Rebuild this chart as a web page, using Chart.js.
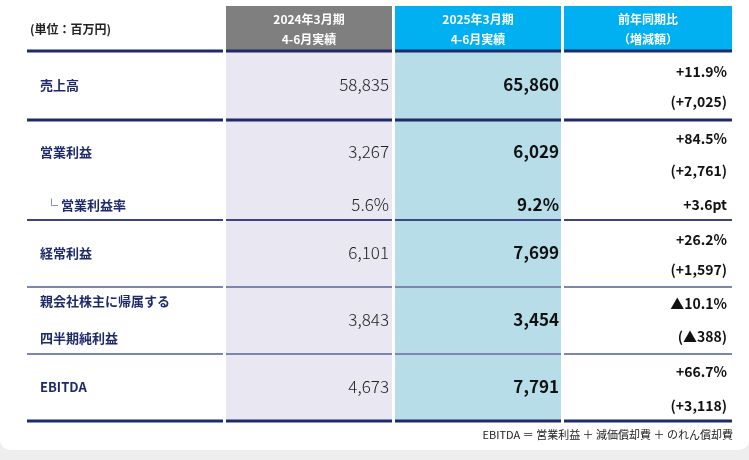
<!DOCTYPE html>
<html><head><meta charset="utf-8">
<script src="https://cdn.jsdelivr.net/npm/chart.js@4/dist/chart.umd.min.js"></script>
<style>
html,body{margin:0;padding:0;background:#eeeeee;}
#wrap{position:absolute;left:0;top:0;width:749px;height:450px;background:#fff;border-radius:0 0 10px 10px;}
</style></head>
<body>
<div id="wrap"><canvas id="myChart" width="749" height="460"></canvas></div>
<script>
const categories = [['売上高'], ['営業利益'], ['└ 営業利益率'], ['経常利益'], ['親会社株主に帰属する', '四半期純利益'], ['EBITDA']];
const prevValues = ['58,835', '3,267', '5.6%', '6,101', '3,843', '4,673'];
const currValues = ['65,860', '6,029', '9.2%', '7,699', '3,454', '7,791'];
const changePct = ['+11.9%', '+84.5%', '+3.6pt', '+26.2%', '▲10.1%', '+66.7%'];
const changeAmt = ['(+7,025)', '(+2,761)', null, '(+1,597)', '(▲388)', '(+3,118)'];
const headers = [['(単位：百万円)'], ['2024年3月期', '4-6月実績'], ['2025年3月期', '4-6月実績'], ['前年同期比', '（増減額）']];
const footnote = 'EBITDA ＝ 営業利益 ＋ 減価償却費 ＋ のれん償却費';

// layout in page units
const cols = [[27, 223], [226, 392], [395, 561], [564, 732]];
const rowY = [85, 152, 205, 253, 320, 387];
const lines = [[51, 3, '#1f2a6b'], [120, 3, '#1f2a6b'], [220, 2, '#3b4580'], [287, 2, '#7d86b0'], [354, 2, '#7d86b0'], [421, 3, '#1f2a6b']];
const FONT = '"Noto Sans CJK JP", "Noto Sans", sans-serif';

const tablePlugin = {
    id: 'table',
    afterDraw(chart) {
        const c = chart.ctx, xs = chart.scales.x, ys = chart.scales.y;
        const X = v => xs.getPixelForValue(v), Y = v => ys.getPixelForValue(v);
        const rect = (x0, y0, x1, y1, col) => { c.fillStyle = col; c.fillRect(X(x0), Y(y0), X(x1) - X(x0), Y(y1) - Y(y0)); };
        const txt = (s, x, y, font, col, align) => { c.font = font; c.fillStyle = col; c.textAlign = align; c.textBaseline = 'middle'; c.fillText(s, X(x), Y(y)); };
        c.save();
        // column backgrounds
        rect(cols[1][0], 6, cols[1][1], 50, '#7f7f7f');
        rect(cols[2][0], 6, cols[2][1], 50, '#00b0f0');
        rect(cols[3][0], 6, cols[3][1], 50, '#00b0f0');
        rect(cols[1][0], 52, cols[1][1], 421, '#e9e7f1');
        rect(cols[2][0], 52, cols[2][1], 421, '#b7dde8');
        // headers
        txt(headers[0][0], 30, 29, 'bold 12px ' + FONT, '#222', 'left');
        for (let i = 1; i < 4; i++) {
            const cx = (cols[i][0] + cols[i][1]) / 2;
            txt(headers[i][0], cx, 19, 'bold 12px ' + FONT, '#fff', 'center');
            txt(headers[i][1], cx, 39, 'bold 12px ' + FONT, '#fff', 'center');
        }
        // divider lines
        lines.forEach(([y, w, col]) => {
            cols.forEach(([a, b]) => rect(a, y - w / 2, b, y + w / 2, col));
        });
        // rows
        categories.forEach((lab, i) => {
            const y = rowY[i];
            if (lab.length === 2) {
                txt(lab[0], 40, 301, 'bold 13px ' + FONT, '#1f2a6b', 'left');
                txt(lab[1], 40, 338, 'bold 13px ' + FONT, '#1f2a6b', 'left');
            } else {
                txt(lab[0], i === 2 ? 45 : 40, y, 'bold 13px ' + FONT, '#1f2a6b', 'left');
            }
            txt(prevValues[i], 389, y, '300 17px ' + FONT, '#222', 'right');
            txt(currValues[i], 559, y, 'bold 17px ' + FONT, '#111', 'right');
            if (changeAmt[i]) {
                const top = [72, 139, 0, 240, 304, 372][i];
                const bot = [102, 171, 0, 270, 337, 406][i];
                txt(changePct[i], 727, top, 'bold 14px ' + FONT, '#111', 'right');
                txt(changeAmt[i], 727, bot, 'bold 14px ' + FONT, '#111', 'right');
            } else {
                txt(changePct[i], 727, y, 'bold 14px ' + FONT, '#111', 'right');
            }
        });
        txt(footnote, 733, 435, '11px ' + FONT, '#222', 'right');
        c.restore();
    }
};

new Chart(document.getElementById('myChart').getContext('2d'), {
    type: 'scatter',
    data: { datasets: [{ data: [] }] },
    options: {
        responsive: false,
        animation: false,
        layout: { padding: 0 },
        plugins: { legend: { display: false }, tooltip: { enabled: false } },
        scales: {
            x: { type: 'linear', min: 0, max: 749, display: false },
            y: { type: 'linear', min: 0, max: 460, reverse: true, display: false }
        }
    },
    plugins: [tablePlugin]
});
</script>
</body></html>
